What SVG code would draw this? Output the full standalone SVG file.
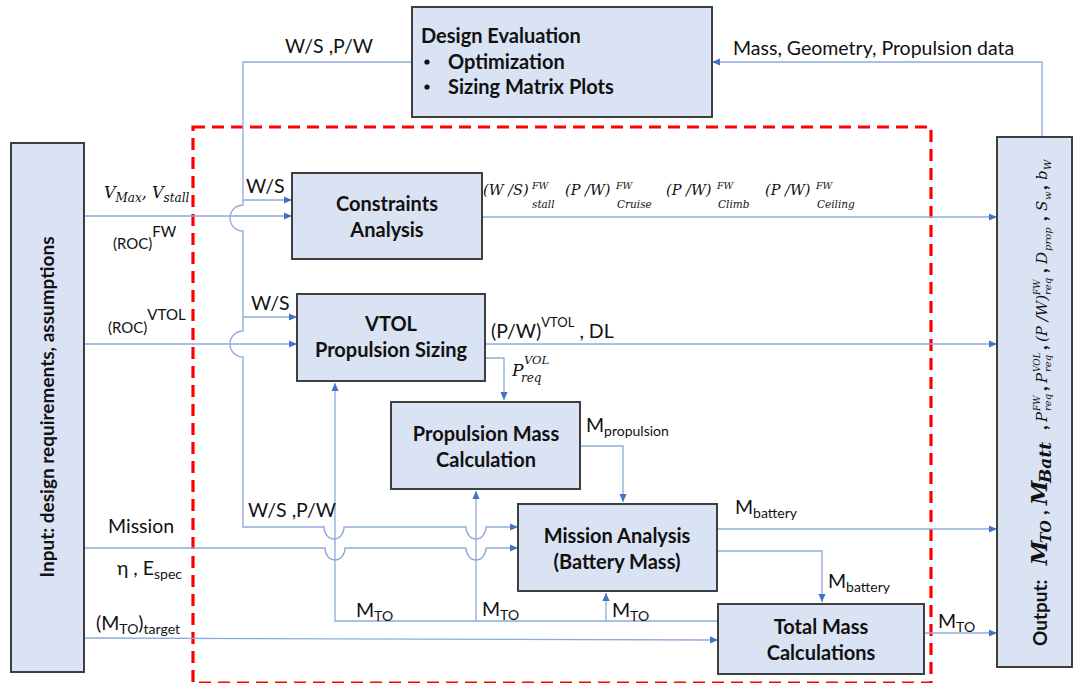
<svg xmlns="http://www.w3.org/2000/svg" width="1076" height="683" viewBox="0 0 1076 683">
  <style>
    .box { fill: #dae3f3; stroke: #3f3f3f; stroke-width: 2; }
    .ln { fill: none; stroke: #8eaadb; stroke-width: 1.3; }
    .arr { marker-end: url(#ah); }
    .frame { fill: none; stroke: #ff0000; stroke-width: 3.2; stroke-dasharray: 12 7; }
    text { font-family: Lato, "Open Sans", "Liberation Sans", sans-serif; fill: #111; }
    .title { font-weight: bold; font-size: 20px; text-anchor: middle; }
    .hd { font-weight: bold; font-size: 20px; }
    .lbl { font-size: 19.5px; }
    .sb { font-size: 14px; }
    .m { font-family: "DejaVu Serif", "Liberation Serif", serif; font-style: italic; }
    .cm { font-weight: bold; font-size: 20px; }
  </style>
  <defs>
    <marker id="ah" viewBox="0 0 10 10" refX="10" refY="5" markerWidth="9" markerHeight="8" markerUnits="userSpaceOnUse" orient="auto">
      <path d="M0,0.5 L10,5 L0,9.5 Z" fill="#4472c4"/>
    </marker>
  </defs>
  <rect width="1076" height="683" fill="#ffffff"/>

  <!-- sizing loop boundary -->
  <rect class="frame" x="193" y="127" width="738" height="556"/>

  <!-- connectors -->
  <g id="connectors">
    <!-- W/S, P/W distribution from design evaluation -->
    <path class="ln arr" d="M412,62 H243 V205 A13 13 0 0 0 243 231 V331 A13 13 0 0 0 243 357 V527 H324 A10 12 0 0 0 344 527 H466 A10 12 0 0 0 486 527 H518"/>
    <path class="ln arr" d="M243,200 H292"/>
    <path class="ln arr" d="M243,317 H297"/>
    <!-- inputs -->
    <path class="ln arr" d="M84,216 H292"/>
    <path class="ln arr" d="M84,344 H297"/>
    <path class="ln arr" d="M84,548 H325 A10 12 0 0 0 345 548 H466 A10 12 0 0 0 486 548 H518"/>
    <path class="ln arr" d="M84,638 L718,640"/>
    <!-- outputs -->
    <path class="ln arr" d="M482,217 H997"/>
    <path class="ln arr" d="M485,344 H997"/>
    <path class="ln arr" d="M717,529 H997"/>
    <path class="ln arr" d="M924,633 H997"/>
    <!-- internal flows -->
    <path class="ln arr" d="M485,358 H504 V400"/>
    <path class="ln arr" d="M580,446 H623 V502"/>
    <path class="ln arr" d="M717,551 H822 V602"/>
    <!-- take-off mass feedback -->
    <path class="ln arr" d="M718,621 H335 V383"/>
    <path class="ln arr" d="M476,621 V491"/>
    <path class="ln arr" d="M606,621 V593"/>
    <!-- results back to design evaluation -->
    <path class="ln arr" d="M1042,137 V62 H712"/>
  </g>

  <!-- connector labels -->
  <g id="labels">
    <text class="lbl" x="285" y="53">W/S ,P/W</text>
    <text class="lbl" x="733" y="55">Mass, Geometry, Propulsion data</text>

    <text class="m" x="104" y="198" font-size="16">V<tspan font-size="12" dy="4">Max</tspan><tspan dy="-4">, V</tspan><tspan font-size="12" dy="4">stall</tspan></text>
    <text x="113" y="249" font-size="15">(ROC)<tspan dy="-12">FW</tspan></text>
    <text x="108" y="333" font-size="15">(ROC)<tspan dy="-13">VTOL</tspan></text>
    <text class="lbl" x="246" y="193">W/S</text>
    <text class="lbl" x="251" y="310">W/S</text>

    <!-- fixed-wing constraint results -->
    <text class="m" x="483" y="195" font-size="14.5">(W /S)</text>
    <text class="m" x="532" y="189" font-size="9.5">FW</text>
    <text class="m" x="532" y="208" font-size="10.5">stall</text>
    <text class="m" x="565" y="195" font-size="14.5">(P /W)</text>
    <text class="m" x="616" y="189" font-size="9.5">FW</text>
    <text class="m" x="617" y="208" font-size="10.5">Cruise</text>
    <text class="m" x="666" y="195" font-size="14.5">(P /W)</text>
    <text class="m" x="717" y="189" font-size="9.5">FW</text>
    <text class="m" x="718" y="208" font-size="10.5">Climb</text>
    <text class="m" x="765" y="195" font-size="14.5">(P /W)</text>
    <text class="m" x="816" y="189" font-size="9.5">FW</text>
    <text class="m" x="817" y="208" font-size="10.5">Ceiling</text>

    <text class="lbl" x="491" y="338">(P/W)<tspan dy="-11" font-size="13">VTOL</tspan><tspan dy="11"> , DL</tspan></text>
    <text class="m" x="512" y="376" font-size="17">P</text>
    <text class="m" x="524" y="364" font-size="11.5">VOL</text>
    <text class="m" x="521" y="382" font-size="12">req</text>

    <text class="lbl" x="586" y="432">M<tspan class="sb" dy="4">propulsion</tspan></text>
    <text class="lbl" x="248" y="517">W/S ,P/W</text>
    <text class="lbl" x="735" y="514">M<tspan class="sb" dy="4">battery</tspan></text>
    <text class="lbl" x="828" y="588">M<tspan class="sb" dy="4">battery</tspan></text>
    <text class="lbl" x="356" y="617">M<tspan class="sb" dy="4">TO</tspan></text>
    <text class="lbl" x="482" y="616">M<tspan class="sb" dy="4">TO</tspan></text>
    <text class="lbl" x="612" y="617">M<tspan class="sb" dy="4">TO</tspan></text>
    <text class="lbl" x="938" y="628">M<tspan class="sb" dy="4">TO</tspan></text>

    <text class="lbl" x="108" y="533">Mission</text>
    <text class="lbl" x="117" y="575">η , E<tspan class="sb" dy="4">spec</tspan></text>
    <text class="lbl" x="96" y="630">(M<tspan class="sb" dy="4">TO</tspan><tspan dy="-4">)</tspan><tspan class="sb" dy="4">target</tspan></text>
  </g>

  <!-- nodes -->
  <g id="design-evaluation">
    <rect class="box" x="412" y="7" width="300" height="110"/>
    <text class="hd" x="421" y="43">Design Evaluation</text>
    <circle cx="427" cy="62" r="2.6" fill="#111"/>
    <text class="hd" x="448" y="69">Optimization</text>
    <circle cx="427" cy="87" r="2.6" fill="#111"/>
    <text class="hd" x="448" y="94">Sizing Matrix Plots</text>
  </g>

  <g id="input">
    <rect class="box" x="11" y="143" width="73" height="529"/>
    <text transform="translate(54,407) rotate(-90)" font-weight="bold" font-size="19" text-anchor="middle">Input: design requirements, assumptions</text>
  </g>

  <g id="output">
    <rect class="box" x="997" y="137" width="75" height="530"/>
    <g transform="translate(1047,0) rotate(-90)">
      <text x="-646" y="0" font-weight="bold" font-size="19">Output:</text>
      <text class="m" x="-565" y="0" font-weight="bold" font-size="22">M</text>
      <text class="m" x="-543" y="4" font-weight="bold" font-size="14">TO</text>
      <text class="cm" x="-515" y="0">,</text>
      <text class="m" x="-505" y="0" font-weight="bold" font-size="22">M</text>
      <text class="m" x="-483" y="4" font-weight="bold" font-size="17">Batt</text>
      <text class="cm" x="-430" y="0">,</text>
      <text class="m" x="-422" y="0" font-size="15">P</text>
      <text class="m" x="-411" y="-7" font-size="9">FW</text>
      <text class="m" x="-411" y="4" font-size="10">req</text>
      <text class="cm" x="-391" y="0">,</text>
      <text class="m" x="-383" y="0" font-size="15">P</text>
      <text class="m" x="-372" y="-7" font-size="9">VOL</text>
      <text class="m" x="-372" y="4" font-size="10">req</text>
      <text class="cm" x="-350" y="0">,</text>
      <text class="m" x="-342" y="0" font-size="15">(P /W)</text>
      <text class="m" x="-295" y="-7" font-size="9">FW</text>
      <text class="m" x="-295" y="4" font-size="10">req</text>
      <text class="cm" x="-273" y="0">,</text>
      <text class="m" x="-264" y="0" font-size="15">D</text>
      <text class="m" x="-251" y="4" font-size="10">prop</text>
      <text class="cm" x="-221" y="0">,</text>
      <text class="m" x="-211" y="0" font-size="15">S</text>
      <text class="m" x="-200" y="4" font-size="10">w</text>
      <text class="cm" x="-190" y="0">,</text>
      <text class="m" x="-180" y="0" font-size="15">b</text>
      <text class="m" x="-170" y="4" font-size="10">W</text>
    </g>
  </g>

  <g id="constraints-analysis">
    <rect class="box" x="292" y="173" width="190" height="86"/>
    <text class="title" x="387" y="211">Constraints</text>
    <text class="title" x="387" y="237">Analysis</text>
  </g>

  <g id="vtol-propulsion-sizing">
    <rect class="box" x="297" y="294" width="188" height="87"/>
    <text class="title" x="391" y="331">VTOL</text>
    <text class="title" x="391" y="357">Propulsion Sizing</text>
  </g>

  <g id="propulsion-mass">
    <rect class="box" x="391" y="402" width="189" height="87"/>
    <text class="title" x="486" y="441">Propulsion Mass</text>
    <text class="title" x="486" y="467">Calculation</text>
  </g>

  <g id="mission-analysis">
    <rect class="box" x="518" y="504" width="199" height="87"/>
    <text class="title" x="617" y="543">Mission Analysis</text>
    <text class="title" x="617" y="569">(Battery Mass)</text>
  </g>

  <g id="total-mass">
    <rect class="box" x="718" y="604" width="206" height="70"/>
    <text class="title" x="821" y="634">Total Mass</text>
    <text class="title" x="821" y="660">Calculations</text>
  </g>
</svg>
